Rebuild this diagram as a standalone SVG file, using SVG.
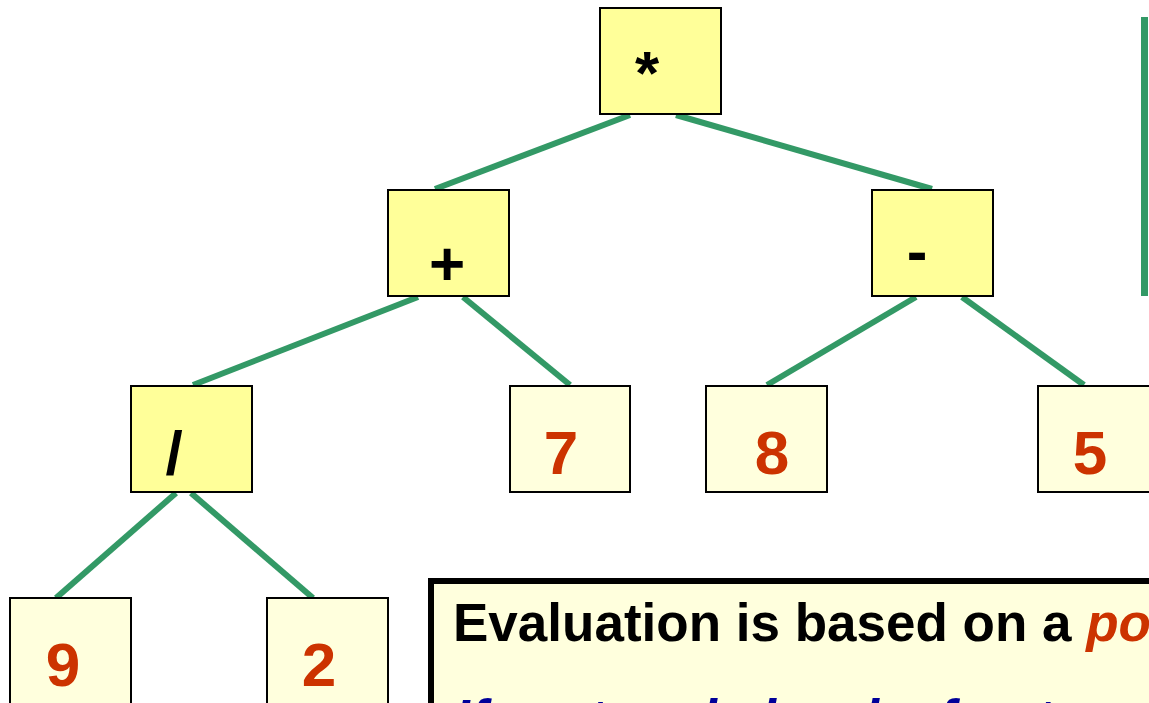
<svg xmlns="http://www.w3.org/2000/svg" width="1149" height="703" viewBox="0 0 1149 703">
<style>
.op{fill:#FFFF99;stroke:#000;stroke-width:2}
.lf{fill:#FFFFDD;stroke:#000;stroke-width:2}
.ot{font-family:"Liberation Sans",Arial,sans-serif;font-weight:bold;font-size:62px;fill:#000;text-anchor:middle}
.nt{font-family:"Liberation Sans",Arial,sans-serif;font-weight:bold;font-size:62px;fill:#CC3300;text-anchor:middle}
.edge{stroke:#339966;stroke-width:6;fill:none}
.bt{font-family:"Liberation Sans",Arial,sans-serif;font-weight:bold;font-size:53px}
</style>
<rect width="1149" height="703" fill="#fff"/>
<g id="connectors">
<line class="edge" x1="630" y1="115" x2="435" y2="189"/>
<line class="edge" x1="676" y1="115" x2="932" y2="189"/>
<line class="edge" x1="418" y1="297" x2="193" y2="385"/>
<line class="edge" x1="463" y1="297" x2="570" y2="385"/>
<line class="edge" x1="916" y1="297" x2="767" y2="385"/>
<line class="edge" x1="962" y1="297" x2="1084" y2="385"/>
<line class="edge" x1="176" y1="493" x2="56" y2="598"/>
<line class="edge" x1="191" y1="493" x2="313" y2="598"/>
<line x1="1144.5" y1="17" x2="1144.5" y2="296" stroke="#339966" stroke-width="7"/>
</g>
<g id="n-mul"><rect class="op" x="600" y="8" width="121" height="106"/><text class="ot" x="647" y="94">*</text></g>
<g id="n-add"><rect class="op" x="388" y="190" width="121" height="106"/><text class="ot" x="447" y="285">+</text></g>
<g id="n-sub"><rect class="op" x="872" y="190" width="121" height="106"/><text class="ot" x="917" y="272">-</text></g>
<g id="n-div"><rect class="op" x="131" y="386" width="121" height="106"/><text class="ot" x="174" y="474">/</text></g>
<g id="n-7"><rect class="lf" x="510" y="386" width="120" height="106"/><text class="nt" x="561" y="474">7</text></g>
<g id="n-8"><rect class="lf" x="706" y="386" width="121" height="106"/><text class="nt" x="772" y="474">8</text></g>
<g id="n-5"><rect class="lf" x="1038" y="386" width="121" height="106"/><text class="nt" x="1090" y="474">5</text></g>
<g id="n-9"><rect class="lf" x="10" y="598" width="121" height="120"/><text class="nt" x="63" y="686">9</text></g>
<g id="n-2"><rect class="lf" x="267" y="598" width="121" height="120"/><text class="nt" x="319" y="686">2</text></g>
<g id="note">
<rect x="431" y="581" width="760" height="160" fill="#FFFFDD" stroke="#000" stroke-width="6"/>
<text class="bt" x="453" y="641" fill="#000">Evaluation is based on a <tspan fill="#CC3300" font-style="italic">postorder</tspan></text>
<text class="bt" x="455" y="737" fill="#000099" font-style="italic">If root node is a leaf, return</text>
</g>
</svg>
